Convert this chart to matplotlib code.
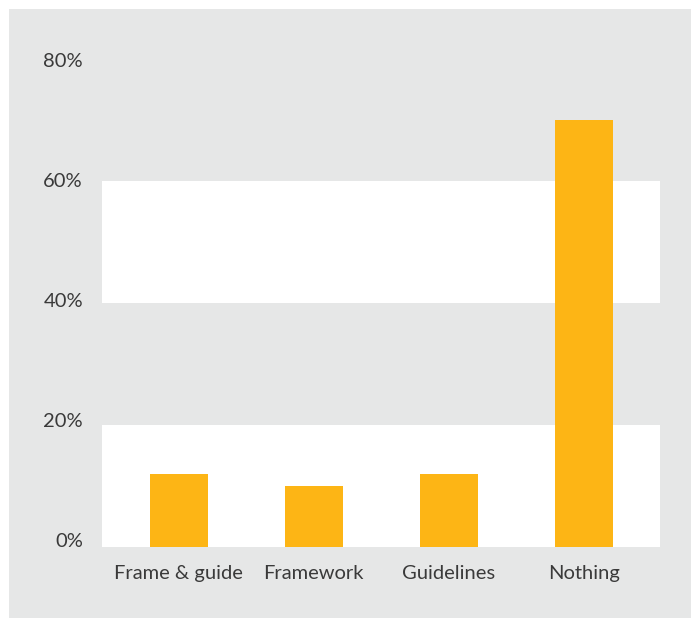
import matplotlib
matplotlib.use("Agg")
import matplotlib.pyplot as plt
import matplotlib.transforms as mtransforms
from matplotlib.patches import Rectangle

categories = ["Frame & guide", "Framework", "Guidelines", "Nothing"]
values = [12, 10, 12, 70]
y_ticks = [0, 20, 40, 60, 80]
y_tick_labels = ["0%", "20%", "40%", "60%", "80%"]

W, H = 691, 619
BG = "#e6e7e7"
BAR = "#fdb515"
TEXT = "#3a3a3a"

plt.rcParams["font.family"] = ["Lato", "DejaVu Sans"]

fig = plt.figure(figsize=(W / 100, H / 100), dpi=100)
fig.patch.set_facecolor("white")
fig.patches.append(Rectangle((9 / W, 1 - 618 / H), 1 - 9 / W, (618 - 9) / H,
                             transform=fig.transFigure, facecolor=BG,
                             edgecolor="none", zorder=0))

ax = fig.add_axes([102 / W, 1 - 547 / H, (660 - 102) / W, (547 - 59) / H])
ax.set_zorder(2)
ax.patch.set_alpha(0)

# alternating white bands behind the bars
for lo in (0, 40):
    ax.axhspan(lo, lo + 20, facecolor="white", edgecolor="none", zorder=0)

x = list(range(len(categories)))
ax.bar(x, values, width=0.43, color=BAR, zorder=2)

ax.set_xlim(-0.57, len(categories) - 1 + 0.565)
ax.set_ylim(0, 80)

for s in ax.spines.values():
    s.set_visible(False)

# value labels: baseline on the band edge, spaced a touch tighter than the bands
ax.set_yticks([])
base = mtransforms.blended_transform_factory(ax.transAxes, ax.transData)
for v, txt in zip(y_ticks, y_tick_labels):
    shift = mtransforms.ScaledTranslation(-19 / 100, -0.1 * v / 100, fig.dpi_scale_trans)
    ax.text(0, v, txt, transform=base + shift, ha="right", va="baseline",
            fontsize=14.5, color=TEXT, clip_on=False)

ax.set_xticks(x)
ax.set_xticklabels(categories)
ax.tick_params(axis="x", length=0, pad=13, labelsize=14.5, labelcolor=TEXT)

fig.savefig("out.png", dpi=100, facecolor=fig.get_facecolor())
